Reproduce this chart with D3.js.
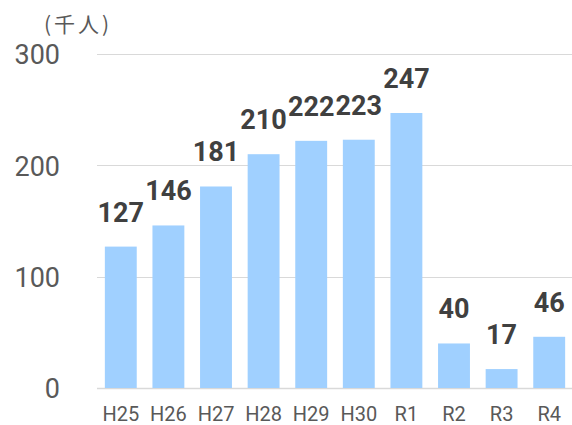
<!DOCTYPE html>
<html>
<head>
<meta charset="utf-8">
<script src="https://cdn.jsdelivr.net/npm/d3@7"></script>
<style>
  html, body { margin: 0; padding: 0; background: #fff; }
  svg { display: block; }
</style>
</head>
<body>
<svg id="chart" width="572" height="425"></svg>
<script>
// Visitors by fiscal year (thousands)
const years = ["H25", "H26", "H27", "H28", "H29", "H30", "R1", "R2", "R3", "R4"];
const visitors = [127, 146, 181, 210, 222, 223, 247, 40, 17, 46];
const yTicks = [0, 100, 200, 300];
const unitLabel = "(千人)";

const svg = d3.select("#chart");
const plotLeft = 97, plotRight = 573, plotTop = 54, plotBottom = 388;

const x = d3.scaleBand().domain(years).range([plotLeft, plotRight]).paddingInner(0.33).paddingOuter(0.165);
const y = d3.scaleLinear().domain([0, 300]).range([plotBottom, plotTop]);

// Gridlines
svg.append("g").selectAll("line").data(yTicks).join("line")
  .attr("x1", plotLeft).attr("x2", 572)
  .attr("y1", d => Math.round(y(d)) + 0.5).attr("y2", d => Math.round(y(d)) + 0.5)
  .attr("stroke", "#D9D9D9").attr("stroke-width", d => d === 0 ? 1.5 : 1.2);

// Y axis labels
const yAxis = d3.axisLeft(y).tickValues(yTicks).tickSize(0).tickPadding(0);
const yg = svg.append("g").attr("transform", "translate(60,0)").call(yAxis);
yg.select(".domain").remove();
yg.selectAll("text")
  .attr("font-family", "Roboto, 'Noto Sans', sans-serif")
  .attr("font-size", 27).attr("fill", "#595959").attr("dy", "0.36em");

// Bars
svg.append("g").selectAll("rect").data(visitors).join("rect")
  .attr("x", (d, i) => x(years[i]))
  .attr("width", x.bandwidth())
  .attr("y", d => y(d))
  .attr("height", d => y(0) - y(d))
  .attr("fill", "#A0D0FF");

// Value labels
svg.append("g").selectAll("text").data(visitors).join("text")
  .attr("x", (d, i) => x(years[i]) + x.bandwidth() / 2)
  .attr("y", d => y(d) - 25)
  .attr("text-anchor", "middle")
  .attr("font-family", "Roboto, 'Noto Sans', sans-serif")
  .attr("font-weight", "bold").attr("font-size", 27).attr("fill", "#404040")
  .text(d => d);

// X axis labels
const xAxis = d3.axisBottom(x).tickSize(0).tickPadding(0);
const xg = svg.append("g").attr("transform", "translate(0,421)").call(xAxis);
xg.select(".domain").remove();
xg.selectAll("text")
  .attr("dy", 0)
  .attr("font-family", "Roboto, 'Noto Sans', sans-serif")
  .attr("font-size", 20).attr("fill", "#595959");

// Unit label
svg.append("text")
  .attr("x", 44).attr("y", 32)
  .attr("font-family", "'Noto Sans CJK JP', sans-serif")
  .attr("font-size", 21).attr("letter-spacing", 3).attr("fill", "#595959")
  .text(unitLabel);
</script>
</body>
</html>
